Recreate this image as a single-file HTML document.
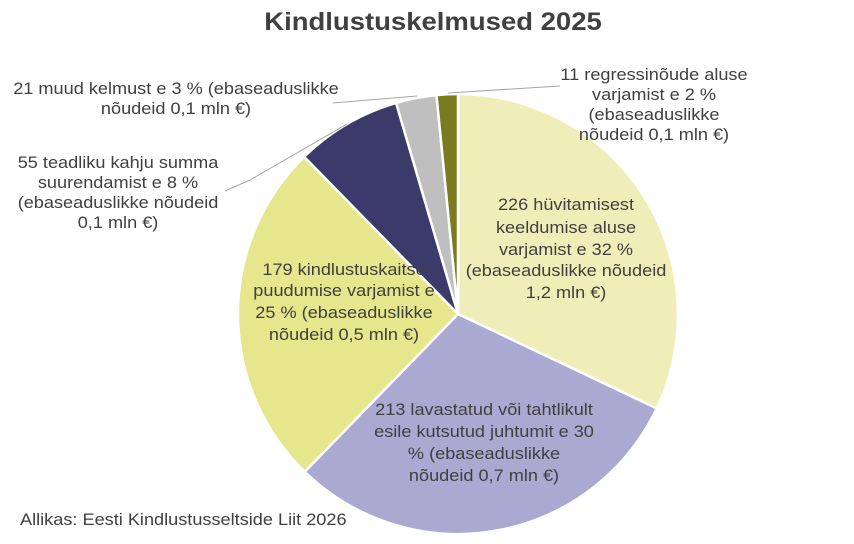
<!DOCTYPE html>
<html><head><meta charset="utf-8"><style>
html,body{margin:0;padding:0;background:#fff;}
svg{display:block;}
text{font-family:"Liberation Sans",sans-serif;fill:#404040;}
</style></head><body>
<svg width="854" height="544" viewBox="0 0 854 544">
<rect width="854" height="544" fill="#fff"/>
<text x="0" y="30" font-size="25" font-weight="bold" text-anchor="middle" transform="translate(433 0) scale(1.1 1)">Kindlustuskelmused 2025</text>
<g stroke="#fff" stroke-width="2.5" stroke-linejoin="round">
<path d="M458,314 L458,94 A220,220 0 0 1 656.7,408.4 Z" fill="#F0EEB8"/>
<path d="M458,314 L656.7,408.4 A220,220 0 0 1 304.7,471.8 Z" fill="#A9A9D1"/>
<path d="M458,314 L304.7,471.8 A220,220 0 0 1 304.1,156.8 Z" fill="#E6E68C"/>
<path d="M458,314 L304.1,156.8 A220,220 0 0 1 396.1,102.9 Z" fill="#3B3B6B"/>
<path d="M458,314 L396.1,102.9 A220,220 0 0 1 436.5,95.1 Z" fill="#BFBFBF"/>
<path d="M458,314 L436.5,95.1 A220,220 0 0 1 458,94 Z" fill="#7A7A1E"/>
</g>
<g stroke="#A6A6A6" stroke-width="1" fill="none">
<polyline points="417,96 333,103"/>
<polyline points="347,124 250,180 225,191"/>
<polyline points="448,93 560,86"/>
</g>
<g font-size="16.5" text-anchor="middle">
<g transform="translate(654 0) scale(1.1 1)">
<text x="0" y="80">11 regressinõude aluse</text>
<text x="0" y="100">varjamist e 2 %</text>
<text x="0" y="120">(ebaseaduslikke</text>
<text x="0" y="140">nõudeid 0,1 mln €)</text>
</g>
<g transform="translate(176 0) scale(1.1 1)">
<text x="0" y="94">21 muud kelmust e 3 % (ebaseaduslikke</text>
<text x="0" y="114">nõudeid 0,1 mln €)</text>
</g>
<g transform="translate(118 0) scale(1.1 1)">
<text x="0" y="168">55 teadliku kahju summa</text>
<text x="0" y="188">suurendamist e 8 %</text>
<text x="0" y="208">(ebaseaduslikke nõudeid</text>
<text x="0" y="228">0,1 mln €)</text>
</g>
<g transform="translate(566 0) scale(1.1 1)">
<text x="0" y="210">226 hüvitamisest</text>
<text x="0" y="233">keeldumise aluse</text>
<text x="0" y="255">varjamist e 32 %</text>
<text x="0" y="276">(ebaseaduslikke nõudeid</text>
<text x="0" y="298">1,2 mln €)</text>
</g>
<g transform="translate(344 0) scale(1.1 1)">
<text x="0" y="275">179 kindlustuskaitse</text>
<text x="0" y="296">puudumise varjamist e</text>
<text x="0" y="318">25 % (ebaseaduslikke</text>
<text x="0" y="340">nõudeid 0,5 mln €)</text>
</g>
<g transform="translate(484 0) scale(1.1 1)">
<text x="0" y="415">213 lavastatud või tahtlikult</text>
<text x="0" y="437">esile kutsutud juhtumit e 30</text>
<text x="0" y="459">% (ebaseaduslikke</text>
<text x="0" y="481">nõudeid 0,7 mln €)</text>
</g>
</g>
<text x="0" y="525" font-size="16.5" transform="translate(20 0) scale(1.1 1)">Allikas: Eesti Kindlustusseltside Liit 2026</text>
</svg>
</body></html>
